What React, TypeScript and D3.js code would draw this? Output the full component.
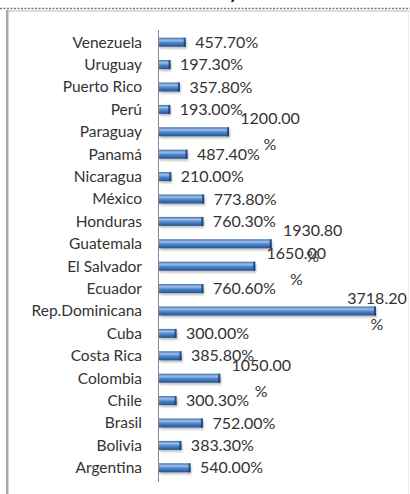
import * as d3 from 'd3';

const countries = [
  'Venezuela', 'Uruguay', 'Puerto Rico', 'Perú', 'Paraguay', 'Panamá', 'Nicaragua', 'México',
  'Honduras', 'Guatemala', 'El Salvador', 'Ecuador', 'Rep.Dominicana', 'Cuba', 'Costa Rica',
  'Colombia', 'Chile', 'Brasil', 'Bolivia', 'Argentina',
];
const values = [
  457.7, 197.3, 357.8, 193.0, 1200.0, 487.4, 210.0, 773.8, 760.3, 1930.8, 1650.0, 760.6,
  3718.2, 300.0, 385.8, 1050.0, 300.3, 752.0, 383.3, 540.0,
];

const W = 410;
const H = 494;
const FONT = 'Lato, "Open Sans", sans-serif';

export default function App() {
  const x = d3.scaleLinear().domain([0, 3718.2]).range([159, 376]);
  const y = d3.scaleBand().domain(countries).range([31, 479]).paddingInner(0.6).paddingOuter(0.3);
  const bh = y.bandwidth();

  return (
    <svg width={W} height={H} style={{ position: 'absolute', left: 0, top: 0, background: '#fff' }}>
      <defs>
        <linearGradient id="bar" x1="0" y1="0" x2="0" y2="1">
          <stop offset="0" stopColor="#3769ab" />
          <stop offset="0.28" stopColor="#9ec0ea" />
          <stop offset="0.55" stopColor="#4f86cb" />
          <stop offset="1" stopColor="#24518f" />
        </linearGradient>
        <linearGradient id="cap" x1="0" y1="0" x2="0" y2="1">
          <stop offset="0" stopColor="#2a5894" />
          <stop offset="1" stopColor="#1b3e70" />
        </linearGradient>
        <filter id="sh" x="-5%" y="-50%" width="110%" height="250%">
          <feGaussianBlur stdDeviation="1.2" />
        </filter>
      </defs>
      {/* title fragment cut off at top */}
      <text x={229} y={-1} fontFamily={FONT} fontSize={18} fontWeight="bold" fill="#000">y</text>
      {/* frame */}
      <line x1={0} x2={W} y1={8.5} y2={8.5} stroke="#777" strokeWidth={1.5} strokeDasharray="2,1.5" />
      <rect x={8} y={10} width={W - 9} height={2} fill="#ddd" />
      <rect x={6} y={10} width={2.5} height={H - 10} fill="#aaa" />
      <line x1={408.5} x2={408.5} y1={12} y2={H} stroke="#eee" />
      {/* axis */}
      <line x1={158.5} x2={158.5} y1={30} y2={482} stroke="#888" strokeWidth={1} />
      {countries.map((c, i) => {
        const v = values[i];
        const y0 = y(c)!;
        const cy = y0 + bh / 2;
        const x0 = x(0);
        const x1 = x(v);
        const lines = v >= 1000 ? [v.toFixed(2), '%'] : [v.toFixed(2) + '%'];
        const lx = Math.min(x1 + 41, 377);
        return (
          <g key={c}>
            <text x={142} y={cy} dy="0.35em" textAnchor="end" fontFamily={FONT} fontSize={15.5} fill="#333">
              {c}
            </text>
            <rect x={x0 + 1} y={y0 + 2} width={x1 - x0} height={bh} fill="#000" opacity={0.25} filter="url(#sh)" />
            <rect x={x0} y={y0} width={x1 - x0} height={bh} fill="url(#bar)" />
            <rect x={x1 - 2} y={y0} width={2} height={bh} fill="url(#cap)" />
            {lines.length === 1 ? (
              <text x={lx} y={cy} dy="0.35em" textAnchor="middle" fontFamily={FONT} fontSize={16} fill="#333">
                {lines[0]}
              </text>
            ) : (
              <>
                <text x={lx} y={cy - 13} dy="0.35em" textAnchor="middle" fontFamily={FONT} fontSize={16} fill="#333">
                  {lines[0]}
                </text>
                <text x={lx} y={cy + 13} dy="0.35em" textAnchor="middle" fontFamily={FONT} fontSize={16} fill="#333">
                  {lines[1]}
                </text>
              </>
            )}
          </g>
        );
      })}
    </svg>
  );
}
